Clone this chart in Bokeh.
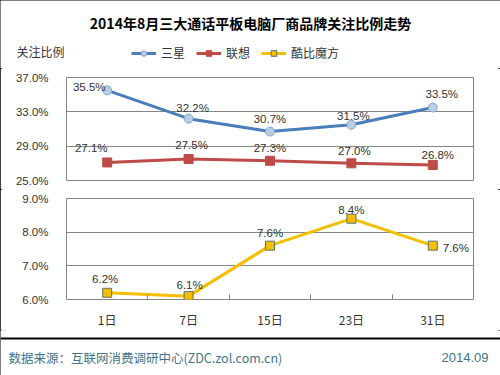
from bokeh.plotting import figure
from bokeh.layouts import column
from bokeh.models import (Range1d, FixedTicker, PrintfTickFormatter, ColumnDataSource,
                          LabelSet, Label, Legend, LegendItem, Span)
from bokeh.core.properties import value
from bokeh.embed import file_html
from bokeh.resources import INLINE

# ---- data ----
days = ["1日", "7日", "15日", "23日", "31日"]
samsung = [35.5, 32.2, 30.7, 31.5, 33.5]
lenovo = [27.1, 27.5, 27.3, 27.0, 26.8]
kubi = [6.2, 6.1, 7.6, 8.4, 7.6]
upper_ticks = [25, 29, 33, 37]
lower_ticks = [6, 7, 8, 9]
title_text = "2014年8月三大通话平板电脑厂商品牌关注比例走势"
ytitle_text = "关注比例"
names = ["三星", "联想", "酷比魔方"]
source_text = "数据来源：互联网消费调研中心(ZDC.zol.com.cn)"
date_text = "2014.09"

# ---- label offsets (styling) ----
s_xoff = [-18, 4, 0, 2, 9]
s_yoff = [3, 11, 13, 9, 14]
l_xoff = [-16, 3, 0, 3, 5]
l_yoff = [14, 14, 13, 12, 10]
k_xoff = [-2, 1, 0, 0, 23]
k_yoff = [14, 11, 13, 9, -2]

CJK = "Noto Sans CJK SC"
NUM = "Liberation Sans"
GRID = "#868686"
TXT = "#333333"
S_COL, S_FILL, S_EDGE = "#4a7ebb", "#b9cde5", "#7ea6d6"
L_COL = "#be4b48"
K_COL, K_EDGE = "#f5bf00", "#5d7070"
FOOT = "#43748a"
W = 500
NAN = float("nan")

xs = list(range(1, len(days) + 1))
overrides = {i: d for i, d in zip(xs, days)}


def fmt(v):
    return ["%.1f%%" % a for a in v]


def blank(h):
    f = figure(width=W, height=h, output_backend="svg", toolbar_location=None,
               x_range=Range1d(0, W), y_range=Range1d(0, h),
               min_border=0, x_axis_location=None, y_axis_location=None)
    f.grid.visible = False
    f.outline_line_color = None
    f.background_fill_color = "white"
    f.border_fill_color = "white"
    return f


def style(p, ticks):
    p.outline_line_color = GRID
    p.outline_line_width = 1
    p.xgrid.visible = False
    p.ygrid.grid_line_color = GRID
    p.ygrid.grid_line_width = 1
    p.yaxis.ticker = FixedTicker(ticks=ticks)
    p.yaxis.formatter = PrintfTickFormatter(format="%.1f%%")
    p.yaxis.axis_line_color = None
    p.yaxis.major_tick_line_color = None
    p.yaxis.minor_tick_line_color = None
    p.yaxis.major_label_standoff = 12
    p.yaxis.major_label_text_font = NUM
    p.yaxis.major_label_text_font_size = "11.5px"
    p.yaxis.major_label_text_color = TXT
    p.background_fill_color = "white"
    p.border_fill_color = "white"


def labels(src):
    return LabelSet(x="x", y="y", text="t", source=src, x_offset="dx", y_offset="dy",
                    text_align="center", text_baseline="middle",
                    text_font=value(NUM), text_font_size=value("11.5px"),
                    text_color=TXT)


# ---- header: title, y title, legend ----
head = blank(68)
head.add_layout(Label(x=250, y=46, text=title_text, text_align="center",
                      text_baseline="middle", text_font=CJK, text_font_size="14px",
                      text_font_style="bold", text_color="black"))
head.add_layout(Label(x=16, y=17, text=ytitle_text, text_align="left",
                      text_baseline="middle", text_font=CJK, text_font_size="12px",
                      text_color=TXT))
h_s_l = head.line(x=[NAN], y=[NAN], line_color=S_COL, line_width=3)
h_s_p = head.scatter(x=[NAN], y=[NAN], marker="circle", size=9, fill_color=S_FILL,
                     line_color=S_EDGE)
h_l_l = head.line(x=[NAN], y=[NAN], line_color=L_COL, line_width=3)
h_l_p = head.scatter(x=[NAN], y=[NAN], marker="square", size=9, fill_color=L_COL,
                     line_color=L_COL)
h_k_l = head.line(x=[NAN], y=[NAN], line_color=K_COL, line_width=3)
h_k_p = head.scatter(x=[NAN], y=[NAN], marker="square", size=8, fill_color=K_COL,
                     line_color=K_EDGE)
legend = Legend(items=[LegendItem(label=names[0], renderers=[h_s_l, h_s_p]),
                       LegendItem(label=names[1], renderers=[h_l_l, h_l_p]),
                       LegendItem(label=names[2], renderers=[h_k_l, h_k_p])],
                orientation="horizontal", location=(131, 7),
                padding=0, spacing=11, label_standoff=5, glyph_width=25, glyph_height=14,
                border_line_color=None, background_fill_alpha=0,
                label_text_font=CJK, label_text_font_size="12px", label_text_color=TXT)
head.add_layout(legend, "center")

# ---- upper plot ----
top = figure(width=W, height=121, output_backend="svg", toolbar_location=None,
             x_range=Range1d(0.5, 5.5), y_range=Range1d(25, 37),
             min_border_left=66, min_border_right=27, min_border_top=9, min_border_bottom=9,
             x_axis_location=None)
style(top, upper_ticks)
ss = ColumnDataSource(dict(x=xs, y=samsung, t=fmt(samsung), dx=s_xoff, dy=s_yoff))
ls = ColumnDataSource(dict(x=xs, y=lenovo, t=fmt(lenovo), dx=l_xoff, dy=l_yoff))
top.line("x", "y", source=ss, line_color=S_COL, line_width=3)
top.scatter("x", "y", source=ss, marker="circle", size=9, fill_color=S_FILL,
            line_color=S_EDGE, line_width=1)
top.line("x", "y", source=ls, line_color=L_COL, line_width=3)
top.scatter("x", "y", source=ls, marker="square", size=9, fill_color=L_COL, line_color=L_COL)
top.add_layout(labels(ss))
top.add_layout(labels(ls))

# ---- lower plot ----
bot = figure(width=W, height=141, output_backend="svg", toolbar_location=None,
             x_range=top.x_range, y_range=Range1d(6, 9),
             min_border_left=66, min_border_right=27, min_border_top=9, min_border_bottom=27)
style(bot, lower_ticks)
bot.xaxis.ticker = FixedTicker(ticks=xs, minor_ticks=[x + 0.5 for x in xs[:-1]])
bot.xaxis.major_label_overrides = overrides
bot.xaxis.axis_line_color = None
bot.xaxis.major_tick_line_color = None
bot.xaxis.minor_tick_line_color = GRID
bot.xaxis.minor_tick_in = 5
bot.xaxis.minor_tick_out = 0
bot.xaxis.major_label_standoff = 5
bot.xaxis.major_label_text_font = CJK
bot.xaxis.major_label_text_font_size = "12px"
bot.xaxis.major_label_text_color = TXT
ks = ColumnDataSource(dict(x=xs, y=kubi, t=fmt(kubi), dx=k_xoff, dy=k_yoff))
bot.line("x", "y", source=ks, line_color=K_COL, line_width=3)
bot.scatter("x", "y", source=ks, marker="square", size=9, fill_color=K_COL,
            line_color=K_EDGE, line_width=1)
bot.add_layout(labels(ks))

# ---- footer ----
foot = blank(45)
foot.add_layout(Span(location=37, dimension="width", line_color="black", line_width=2))
foot.add_layout(Label(x=8, y=18, text=source_text, text_align="left", text_baseline="middle",
                      text_font=CJK, text_font_size="12.5px", text_color=FOOT))
foot.add_layout(Label(x=488, y=18, text=date_text, text_align="right", text_baseline="middle",
                      text_font=NUM, text_font_size="13px", text_color=FOOT))

layout = column(column(head), top, bot, column(foot), spacing=0,
                styles={"outline": "2px solid black", "outline-offset": "-2px"})
open("out.html", "w").write(file_html(layout, INLINE))
